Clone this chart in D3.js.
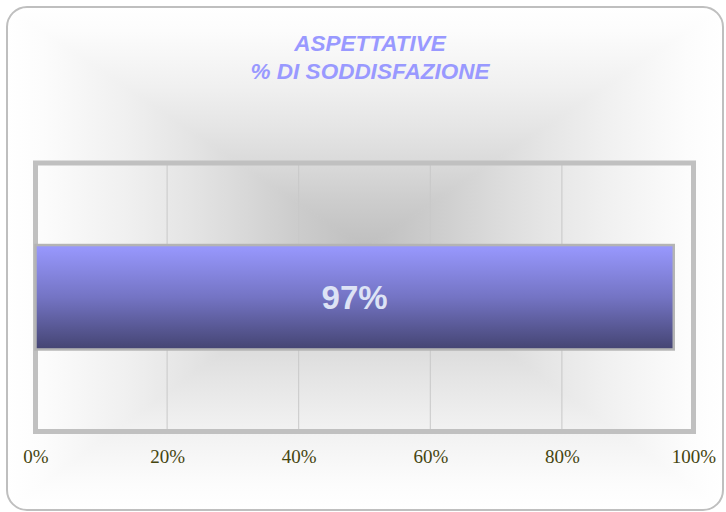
<!DOCTYPE html>
<html>
<head>
<meta charset="utf-8">
<script src="https://cdn.jsdelivr.net/npm/d3@7"></script>
<style>
  body { margin: 0; background: #ffffff; }
  svg { display: block; }
</style>
</head>
<body>
<div id="chart"></div>
<script>
// 1. Data ---------------------------------------------
var categories = ["Aspettative"];
var values = [0.97];
var tickValues = [0, 0.2, 0.4, 0.6, 0.8, 1];
var titleLines = ["ASPETTATIVE", "% DI SODDISFAZIONE"];

// 2. Set up SVG ----------------------------------------
var svgWidth = 726;
var svgHeight = 512;

var box = { x: 7, y: 7, w: 716, h: 503, r: 20 };
var plot = { left: 35.5, right: 693.5, top: 163, bottom: 431.5 };

var svg = d3.select("#chart")
  .append("svg")
  .attr("width", svgWidth)
  .attr("height", svgHeight);

var defs = svg.append("defs");

// background: "from center" gradient built from 4 triangles
var cx = 365, cy = 248;
var bgStops = [[0, "#ffffff"], [0.1, "#fcfcfc"], [0.33, "#f0f0f0"], [0.5, "#e5e5e5"],
               [0.62, "#dcdcdc"], [0.8, "#cdcdcd"], [1, "#bfbfbf"]];

var sides = [
  { id: "gTop", x1: cx, y1: box.y, x2: cx, y2: cy,
    pts: [[box.x, box.y], [box.x + box.w, box.y], [cx, cy]] },
  { id: "gBottom", x1: cx, y1: box.y + box.h, x2: cx, y2: cy,
    pts: [[box.x, box.y + box.h], [box.x + box.w, box.y + box.h], [cx, cy]] },
  { id: "gLeft", x1: box.x, y1: cy, x2: cx, y2: cy,
    pts: [[box.x, box.y], [box.x, box.y + box.h], [cx, cy]] },
  { id: "gRight", x1: box.x + box.w, y1: cy, x2: cx, y2: cy,
    pts: [[box.x + box.w, box.y], [box.x + box.w, box.y + box.h], [cx, cy]] }
];

sides.forEach(s => {
  var g = defs.append("linearGradient")
    .attr("id", s.id)
    .attr("gradientUnits", "userSpaceOnUse")
    .attr("x1", s.x1).attr("y1", s.y1)
    .attr("x2", s.x2).attr("y2", s.y2);
  bgStops.forEach(st => {
    g.append("stop").attr("offset", st[0]).attr("stop-color", st[1]);
  });
});

defs.append("clipPath").attr("id", "boxClip")
  .append("rect")
  .attr("x", box.x).attr("y", box.y)
  .attr("width", box.w).attr("height", box.h)
  .attr("rx", box.r).attr("ry", box.r);

// bar gradient
var barGrad = defs.append("linearGradient")
  .attr("id", "barGrad")
  .attr("x1", 0).attr("y1", 0).attr("x2", 0).attr("y2", 1);
barGrad.append("stop").attr("offset", 0).attr("stop-color", "#9999ff");
barGrad.append("stop").attr("offset", 0.5).attr("stop-color", "#7474c4");
barGrad.append("stop").attr("offset", 1).attr("stop-color", "#444472");

var bg = svg.append("g").attr("clip-path", "url(#boxClip)");
bg.selectAll("polygon").data(sides).enter().append("polygon")
  .attr("points", d => d.pts.map(p => p.join(",")).join(" "))
  .attr("fill", d => `url(#${d.id})`)
  .attr("stroke", d => `url(#${d.id})`)
  .attr("stroke-width", 1);

svg.append("rect")
  .attr("x", box.x).attr("y", box.y)
  .attr("width", box.w).attr("height", box.h)
  .attr("rx", box.r).attr("ry", box.r)
  .attr("fill", "none")
  .attr("stroke", "#bfbfbf")
  .attr("stroke-width", 2);

// 3. Title ---------------------------------------------
svg.append("g").selectAll("text").data(titleLines).enter().append("text")
  .attr("x", 370)
  .attr("y", (d, i) => 51 + i * 28)
  .attr("text-anchor", "middle")
  .style("font-family", "'Liberation Sans', Arial, sans-serif")
  .style("font-weight", "bold")
  .style("font-style", "italic")
  .style("font-size", "22.5px")
  .style("fill", "#9999ff")
  .text(d => d);

// 4. Scales and axis -----------------------------------
var xScale = d3.scaleLinear()
  .domain([0, 1])
  .range([plot.left, plot.right]);

var yScale = d3.scaleBand()
  .domain(categories)
  .range([plot.top, plot.bottom])
  .padding(0.44);

// gridlines
svg.append("g").selectAll("line").data(tickValues.slice(1, -1)).enter().append("line")
  .attr("x1", d => xScale(d)).attr("x2", d => xScale(d))
  .attr("y1", plot.top).attr("y2", plot.bottom)
  .attr("stroke", "#c8c8c8")
  .attr("stroke-width", 1);

// plot border
svg.append("rect")
  .attr("x", plot.left).attr("y", plot.top)
  .attr("width", plot.right - plot.left)
  .attr("height", plot.bottom - plot.top)
  .attr("fill", "none")
  .attr("stroke", "#c0c0c0")
  .attr("stroke-width", 5);

var xAxis = d3.axisBottom(xScale)
  .tickValues(tickValues)
  .tickFormat(d3.format(".0%"))
  .tickSize(0)
  .tickPadding(0);

var axisG = svg.append("g")
  .attr("transform", `translate(0, 447)`)
  .call(xAxis);
axisG.select(".domain").remove();
axisG.selectAll("text")
  .attr("dy", 0)
  .attr("y", 16)
  .style("font-family", "'Liberation Serif', 'Times New Roman', serif")
  .style("font-size", "19px")
  .style("fill", "#45450f");

// 5. Bar -----------------------------------------------
svg.append("g").selectAll("rect").data(values).enter().append("rect")
  .attr("x", xScale(0))
  .attr("y", (d, i) => yScale(categories[i]))
  .attr("width", d => xScale(d) - xScale(0))
  .attr("height", yScale.bandwidth())
  .attr("fill", "url(#barGrad)")
  .attr("stroke", "#b4b4b4")
  .attr("stroke-width", 2.5);

svg.append("g").selectAll("text").data(values).enter().append("text")
  .attr("x", d => (xScale(0) + xScale(d)) / 2)
  .attr("y", (d, i) => yScale(categories[i]) + yScale.bandwidth() / 2 + 12)
  .attr("text-anchor", "middle")
  .style("font-family", "'Liberation Sans', Arial, sans-serif")
  .style("font-weight", "bold")
  .style("font-size", "33px")
  .style("fill", "#dde3f5")
  .text(d => d3.format(".0%")(d));
</script>
</body>
</html>
